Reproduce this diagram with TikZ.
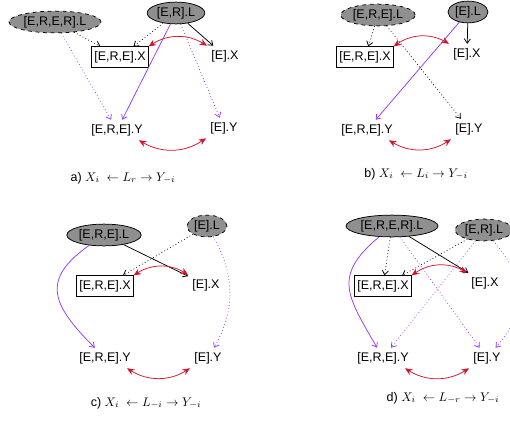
\documentclass[tikz,border=0pt]{standalone}
\usepackage{fontspec}
\setmainfont{Liberation Sans}
\usetikzlibrary{arrows.meta,shapes.geometric}
\definecolor{purple}{RGB}{150,55,255}
\definecolor{red}{RGB}{210,20,45}
\tikzset{
  lvar/.style={ellipse,draw,fill=black!44,line width=.6pt,inner xsep=1pt,inner ysep=1.5pt},
  lhid/.style={lvar,dashed},
  xbox/.style={draw,rectangle,line width=.6pt,inner xsep=2pt,inner ysep=3.5pt},
  toX/.style={->,line width=.6pt},
  toXd/.style={->,line width=.6pt,dotted},
  toY/.style={->,line width=.6pt,purple},
  toYd/.style={->,line width=.6pt,purple,dotted},
  confound/.style={{Stealth[length=6pt,width=5pt]}-{Stealth[length=6pt,width=5pt]},semithick,red}
}
\begin{document}
\begin{tikzpicture}[x=.8pt,y=.8pt,>={Straight Barb[length=3.5pt,width=5pt]}]
\useasboundingbox (0,0) rectangle (510,420);
% a)
\node[lhid] (aLerer) at (55,398) {[E,R,E,R].L};
\node[lvar] (aLer) at (176,407) {[E,R].L};
\node[xbox] (aXere) at (120,363) {[E,R,E].X};
\node (aXe) at (225,364) {[E].X};
\node (aYere) at (117,290) {[E,R,E].Y};
\node (aYe) at (224,292) {[E].Y};
\node (acap) at (123,242) {a) $X_i\ \leftarrow L_r\rightarrow Y_{-i}$};
\draw[toXd] (aLerer) -- (aXere);
\draw[toYd] (aLerer) -- (aYere);
\draw[toXd] (aLer) -- (aXere);
\draw[toX] (aLer) -- (aXe);
\draw[toY] (aLer) -- (aYere);
\draw[toYd] (aLer) -- (aYe);
\draw[confound] (aXere.north east) to[bend left=32] (aXe.north west);
\draw[confound] (aYere.-25) to[bend right=32] (aYe.south west);
% b)
\node[lhid] (bLere) at (378,405) {[E,R,E].L};
\node[lvar] (bLe) at (468,408) {[E].L};
\node[xbox] (bXere) at (365,363) {[E,R,E].X};
\node (bXe) at (467,366) {[E].X};
\node (bYere) at (367,290) {[E,R,E].Y};
\node (bYe) at (469,291) {[E].Y};
\node (bcap) at (416,246) {b) $X_i\ \leftarrow L_i\rightarrow Y_{-i}$};
\draw[toXd] (bLere) -- (bXere);
\draw[toXd] (bLere) -- (bYe);
\draw[toX] (bLe) -- (bXe);
\draw[toY] (bLe) -- (bYere);
\draw[confound] (bXere.north east) to[bend left=32] (bXe.north west);
\draw[confound] (bYere.-25) to[bend right=32] (bYe.south west);
% c)
\node[lvar] (cLere) at (104,185) {[E,R,E].L};
\node[lhid] (cLe) at (207,194) {[E].L};
\node[xbox] (cXere) at (105,134) {[E,R,E].X};
\node (cXe) at (206,135) {[E].X};
\node (cYere) at (105,62) {[E,R,E].Y};
\node (cYe) at (208,62) {[E].Y};
\node (ccap) at (146,17) {c) $X_i\ \leftarrow L_{-i}\rightarrow Y_{-i}$};
\draw[toY] (cLere) to[out=215,in=135,looseness=1.5] (cYere);
\draw[toX] (cLere) -- (cXe);
\draw[toXd] (cLe) -- (cXere);
\draw[toYd] (cLe) to[out=300,in=60] (cYe);
\draw[confound] (cXere.north east) to[bend left=32] (cXe.north west);
\draw[confound] (cYere.-25) to[bend right=32] (cYe.south west);
% d)
\node[lvar] (dLerer) at (392,194) {[E,R,E,R].L};
\node[lhid] (dLer) at (484,190) {[E,R].L};
\node[xbox] (dXere) at (383,134) {[E,R,E].X};
\node (dXe) at (485,137) {[E].X};
\node (dYere) at (383,62) {[E,R,E].Y};
\node (dYe) at (487,62) {[E].Y};
\node (dcap) at (443,22) {d) $X_i\ \leftarrow L_{-r}\rightarrow Y_{-i}$};
\draw[toY] (dLerer) to[out=220,in=120,looseness=1.4] (dYere);
\draw[toXd] (dLerer) -- (dXere);
\draw[toX] (dLerer) -- (dXe);
\draw[toYd] (dLerer) -- (dYe);
\draw[toXd] (dLer) -- (dXere);
\draw[toYd] (dLer) -- (dYere);
\draw[toYd] (dLer) to[out=310,in=50,looseness=1.3] (dYe);
\draw[confound] (dXere.north east) to[bend left=32] (dXe.north west);
\draw[confound] (dYere.-25) to[bend right=32] (dYe.south west);
\end{tikzpicture}
\end{document}
